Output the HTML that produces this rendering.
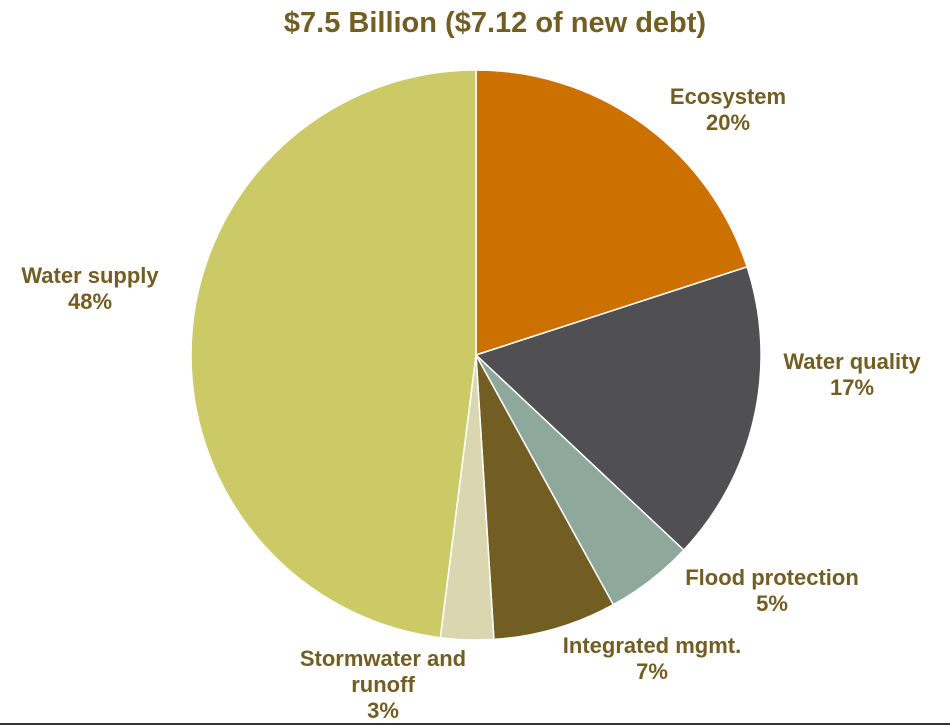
<!DOCTYPE html>
<html><head><meta charset="utf-8"><style>
html,body{margin:0;padding:0;background:#fff;}
svg{display:block;}
text{font-family:"Liberation Sans",Arial,sans-serif;font-weight:bold;fill:#725E22;}
</style></head><body>
<svg width="950" height="726" viewBox="0 0 950 726" xmlns="http://www.w3.org/2000/svg">
<rect width="950" height="726" fill="#fff"/>
<text x="495" y="32" font-size="29" text-anchor="middle">$7.5 Billion ($7.12 of new debt)</text>
<g stroke="#fff" stroke-width="1.5">
<path d="M476,355 L476,70 A285,285 0 0 1 747.1,266.9 Z" fill="#CC7000"/>
<path d="M476,355 L747.1,266.9 A285,285 0 0 1 683.8,550.1 Z" fill="#505052"/>
<path d="M476,355 L683.8,550.1 A285,285 0 0 1 613.3,604.7 Z" fill="#8FA89C"/>
<path d="M476,355 L613.3,604.7 A285,285 0 0 1 493.9,639.4 Z" fill="#725E22"/>
<path d="M476,355 L493.9,639.4 A285,285 0 0 1 440.3,637.7 Z" fill="#DAD6B0"/>
<path d="M476,355 L440.3,637.7 A285,285 0 0 1 191,355 A285,285 0 0 1 476,70 Z" fill="#CCCA66"/>
</g>
<g font-size="22" text-anchor="middle">
<text x="728" y="104">Ecosystem</text><text x="728" y="130">20%</text>
<text x="852" y="369">Water quality</text><text x="852" y="395">17%</text>
<text x="772" y="585">Flood protection</text><text x="772" y="611">5%</text>
<text x="652" y="653">Integrated mgmt.</text><text x="652" y="679">7%</text>
<text x="383" y="666">Stormwater and</text><text x="383" y="692">runoff</text><text x="383" y="718">3%</text>
<text x="90" y="283">Water supply</text><text x="90" y="309">48%</text>
</g>
<line x1="0" y1="724" x2="950" y2="724" stroke="#333" stroke-width="2"/>
</svg>
</body></html>
